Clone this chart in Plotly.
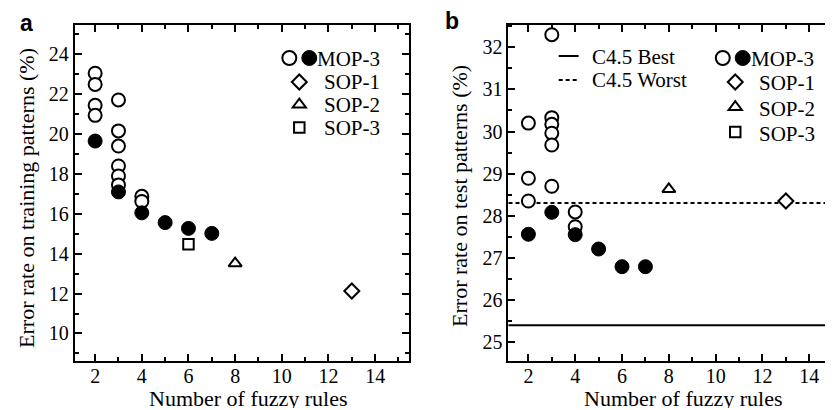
import plotly.graph_objects as go

W, H = 833, 410

# ---------------- data ----------------
# Panel a: error rate on training patterns (%)
mop3_open_rules_a = [2, 2, 2, 2, 3, 3, 3, 3, 3, 3, 4, 4]
mop3_open_train = [23.05, 22.49, 21.44, 20.94, 21.71, 20.16, 19.40, 18.40, 17.90, 17.45, 16.88, 16.62]
mop3_filled_rules = [2, 3, 4, 5, 6, 7]
mop3_filled_train = [19.65, 17.10, 16.05, 15.56, 15.27, 15.02]
sop1_rules = [13]
sop1_train = [12.13]
sop2_rules = [8]
sop2_train = [13.52]
sop3_rules = [6]
sop3_train = [14.47]

# Panel b: error rate on test patterns (%)
mop3_open_rules_b = [2, 2, 2, 3, 3, 3, 3, 3, 3, 4, 4]
mop3_open_test = [30.20, 28.89, 28.35, 32.30, 30.33, 30.17, 29.96, 29.68, 28.70, 28.09, 27.74]
mop3_filled_test = [27.56, 28.08, 27.55, 27.21, 26.79, 26.79]
sop1_test = [28.35]
sop2_test = [28.63]
c45_best = 25.40
c45_worst = 28.30

x_ticks = [2, 4, 6, 8, 10, 12, 14]
y_ticks_a = [10, 12, 14, 16, 18, 20, 22, 24]
y_ticks_b = [25, 26, 27, 28, 29, 30, 31, 32]

SERIF = "Liberation Serif, Times New Roman, serif"
SANS = "Liberation Sans, Arial, sans-serif"


def px(x):
    return x / W


def py(y):
    return 1 - y / H


fig = go.Figure()

open_m = dict(symbol="circle", size=13, color="white", line=dict(color="black", width=2))
fill_m = dict(symbol="circle", size=14, color="black", line=dict(color="black", width=1))
dia_m = dict(symbol="diamond", size=11.5, color="white", line=dict(color="black", width=2))
tri_m = dict(symbol="triangle-up", size=11.5, color="white", line=dict(color="black", width=2))
sq_m = dict(symbol="square", size=10.5, color="white", line=dict(color="black", width=2))

# panel a
fig.add_trace(go.Scatter(x=mop3_open_rules_a, y=mop3_open_train, mode="markers", marker=open_m, xaxis="x", yaxis="y"))
fig.add_trace(go.Scatter(x=mop3_filled_rules, y=mop3_filled_train, mode="markers", marker=fill_m, xaxis="x", yaxis="y"))
fig.add_trace(go.Scatter(x=sop1_rules, y=sop1_train, mode="markers", marker=dia_m, xaxis="x", yaxis="y"))
fig.add_trace(go.Scatter(x=sop2_rules, y=sop2_train, mode="markers", marker=tri_m, xaxis="x", yaxis="y"))
fig.add_trace(go.Scatter(x=sop3_rules, y=sop3_train, mode="markers", marker=sq_m, xaxis="x", yaxis="y"))

# panel b
fig.add_trace(go.Scatter(x=mop3_open_rules_b, y=mop3_open_test, mode="markers", marker=open_m, xaxis="x2", yaxis="y2"))
fig.add_trace(go.Scatter(x=mop3_filled_rules, y=mop3_filled_test, mode="markers", marker=fill_m, xaxis="x2", yaxis="y2"))
fig.add_trace(go.Scatter(x=sop1_rules, y=sop1_test, mode="markers", marker=dia_m, xaxis="x2", yaxis="y2"))
fig.add_trace(go.Scatter(x=sop2_rules, y=sop2_test, mode="markers", marker=tri_m, xaxis="x2", yaxis="y2"))

shapes = []
# C4.5 reference lines
shapes.append(dict(type="line", xref="x2 domain", yref="y2", x0=0, x1=1, y0=c45_best, y1=c45_best,
                   line=dict(color="black", width=2), layer="below"))
shapes.append(dict(type="line", xref="x2 domain", yref="y2", x0=0, x1=1, y0=c45_worst, y1=c45_worst,
                   line=dict(color="black", width=2, dash="4px,3px"), layer="below"))


# ---------- legend keys (layout shapes in pixel positions) ----------
def circ(cx, cy, r, filled):
    shapes.append(dict(type="circle", xref="paper", yref="paper",
                       x0=px(cx - r), x1=px(cx + r), y0=py(cy + r), y1=py(cy - r),
                       fillcolor="black" if filled else "white",
                       line=dict(color="black", width=1 if filled else 2)))


def diamond(cx, cy, size):
    rd = size / 2 * 1.3
    path = "M{},{} L{},{} L{},{} L{},{} Z".format(
        px(cx + rd), py(cy), px(cx), py(cy + rd), px(cx - rd), py(cy), px(cx), py(cy - rd))
    shapes.append(dict(type="path", xref="paper", yref="paper", path=path,
                       fillcolor="white", line=dict(color="black", width=2)))


def triangle(cx, cy, size):
    r = size / 2
    rt = r * 2 / 3 ** 0.5
    path = "M{},{} L{},{} L{},{} Z".format(
        px(cx - rt), py(cy + r / 2), px(cx + rt), py(cy + r / 2), px(cx), py(cy - r))
    shapes.append(dict(type="path", xref="paper", yref="paper", path=path,
                       fillcolor="white", line=dict(color="black", width=2)))


def square(cx, cy, size):
    r = size / 2
    shapes.append(dict(type="rect", xref="paper", yref="paper",
                       x0=px(cx - r), x1=px(cx + r), y0=py(cy + r), y1=py(cy - r),
                       fillcolor="white", line=dict(color="black", width=2)))


def hline(x0, x1, y, dash=None):
    ln = dict(color="black", width=2)
    if dash:
        ln["dash"] = dash
    shapes.append(dict(type="line", xref="paper", yref="paper",
                       x0=px(x0), x1=px(x1), y0=py(y), y1=py(y), line=ln))


annotations = []


def label(text, x, y, size=22, font=SERIF, xanchor="left", angle=0, bold=False, height=None):
    a = dict(text=("<b>%s</b>" % text) if bold else text, xref="paper", yref="paper",
             x=px(x), y=py(y), xanchor=xanchor, yanchor="middle",
             showarrow=False, textangle=angle, borderpad=0,
             font=dict(family=font, size=size, color="black"))
    if height:
        a["height"] = height
    annotations.append(a)


LEG = 21
# legend a
circ(282, 50, 7, False)
circ(302, 50, 7.5, True)
label("MOP-3", 309, 50, size=LEG, height=19)
diamond(292, 74, 11.5)
label("SOP-1", 316, 74, size=LEG, height=19)
triangle(292, 96.5, 11.5)
label("SOP-2", 316, 96.5, size=LEG, height=19)
square(292, 119.5, 10.5)
label("SOP-3", 316, 119.5, size=LEG, height=19)

# legend b
hline(552, 572, 48)
label("C4.5 Best", 584, 48, size=LEG, height=19)
hline(552, 572, 72, dash="4px,3px")
label("C4.5 Worst", 584, 72, size=LEG, height=19)
circ(716.5, 50, 7, False)
circ(736.5, 50, 7.5, True)
label("MOP-3", 744, 50, size=LEG, height=19)
diamond(729, 74, 11.5)
label("SOP-1", 752, 75, size=LEG, height=19)
triangle(729, 99, 11.5)
label("SOP-2", 752, 100, size=LEG, height=19)
square(729, 124, 10.5)
label("SOP-3", 752, 125, size=LEG, height=19)

# axis titles & panel letters
label("Number of fuzzy rules", 241, 390, xanchor="center", height=20)
label("Number of fuzzy rules", 677, 390, xanchor="center", height=20)
label("Error rate on training patterns (%)", 18, 190, xanchor="center", angle=-90)
label("Error rate on test patterns (%)", 453, 188, xanchor="center", angle=-90)
label("a", 19, 15, size=23, font=SANS, xanchor="center", bold=True)
label("b", 445, 13, size=23, font=SANS, xanchor="center", bold=True)

tickfont = dict(family=SERIF, size=20, color="black")
common = dict(showline=True, linewidth=2, linecolor="black", mirror="ticks", ticks="inside",
              ticklen=7, tickwidth=2, tickcolor="black", showgrid=False, zeroline=False,
              tickfont=tickfont)
minor_x = dict(dtick=1, tick0=1, ticklen=4, tickwidth=2, tickcolor="black", ticks="inside")

fig.update_layout(
    width=W, height=H, margin=dict(l=0, r=0, t=0, b=0),
    paper_bgcolor="white", plot_bgcolor="white", showlegend=False,
    xaxis=dict(domain=[px(67), px(401.7)], range=[1.13, 15.44], tickvals=x_ticks, anchor="y",
               minor=minor_x, ticklabelstandoff=-4, **common),
    yaxis=dict(domain=[py(353), py(17)], range=[8.62, 25.47], tickvals=y_ticks_a, anchor="x",
               minor=dict(dtick=1, tick0=9, ticklen=4, tickwidth=2, tickcolor="black", ticks="inside"),
               **common),
    xaxis2=dict(domain=[px(501.7), 1.0], range=[1.15, 15.27], tickvals=x_ticks, anchor="y2",
                minor=minor_x, ticklabelstandoff=-4, **common),
    yaxis2=dict(domain=[py(353), py(17)], range=[24.55, 32.53], tickvals=y_ticks_b, anchor="x2",
                minor=dict(dtick=0.5, tick0=24.5, ticklen=4, tickwidth=2, tickcolor="black", ticks="inside"),
                **common),
    shapes=shapes, annotations=annotations,
)

fig.write_html("out.html")
